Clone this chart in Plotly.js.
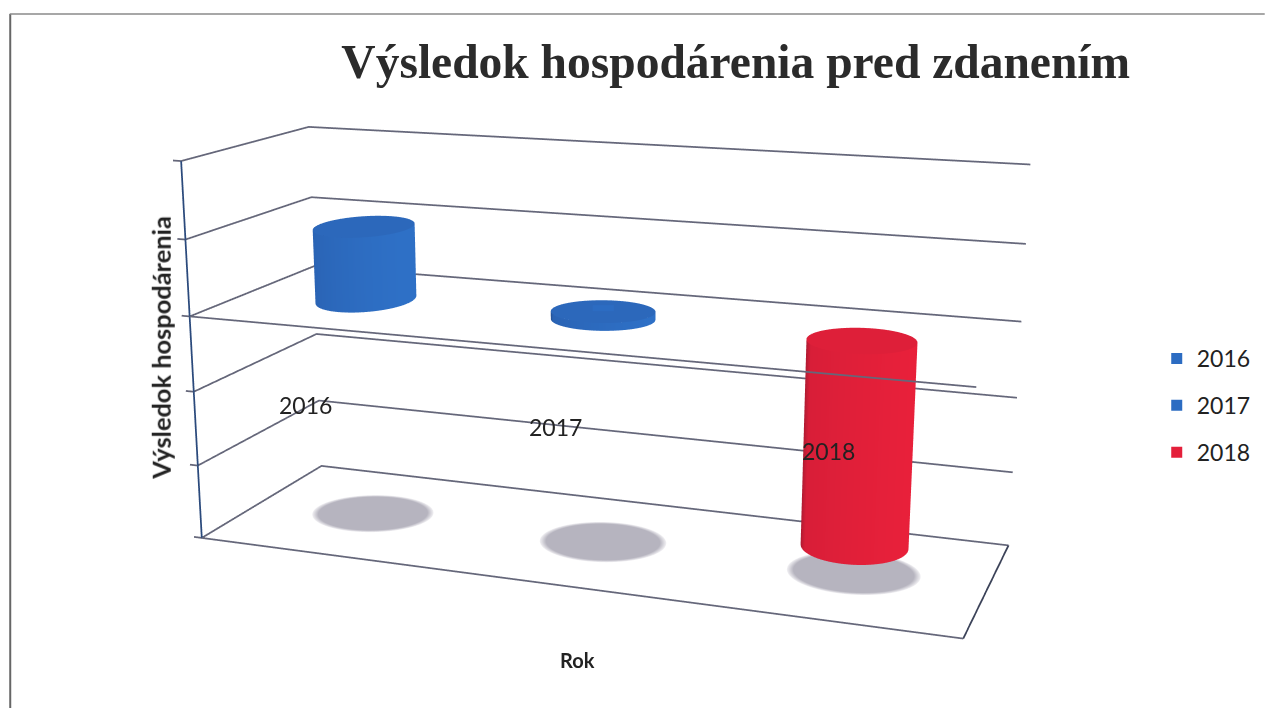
<!DOCTYPE html>
<html><head><meta charset="utf-8">
<script src="https://cdn.plot.ly/plotly-3.0.1.min.js"></script>
<style>html,body{margin:0;padding:0;background:#fff;width:1265px;height:708px;overflow:hidden}#wrap{position:absolute;left:0;top:0;width:1265px;height:708px;overflow:hidden}#c{position:absolute}</style>
</head><body><div id="wrap"><div id="c"></div></div>
<script>
var categories=['2016','2017','2018'];
var values=[0.98,0.1,-2.65];
var colors=['#2c6cc2','#2c6cc2','#e41f3a'];
var gridValues=[-3,-2,-1,0,1,2];
var catPos=[1,2,3];
var widths=[0.187,0.2,0.2];
var depths=[0.24,0.19,0.2];
var xTitle='Rok',yTitle='Výsledok hospodárenia',mainTitle='Výsledok hospodárenia pred zdanením';
var R={x:[0.5,3.5],y:[0,1],z:[-3,2]};
var pad={x:.06,y:.02,z:.06};
var B={x:[R.x[0]-pad.x,R.x[1]+pad.x],y:[R.y[0]-pad.y,R.y[1]+pad.y],z:[R.z[0]-pad.z,R.z[1]+pad.z]};
var srx=0.25,sry=0.23;
var N=72;
function cylSide(c,z0,z1,rx,ry){var X=[],Y=[],Z=[],S=[];[z0,z1].forEach(function(z){var a=[],b=[],d=[],s=[];for(var i=0;i<=N;i++){var t=i/N*2*Math.PI;a.push(c+rx*Math.cos(t));b.push(.5+ry*Math.sin(t));d.push(z);s.push((Math.cos(t)+1)/2)}X.push(a);Y.push(b);Z.push(d);S.push(s)});return{x:X,y:Y,z:Z,surfacecolor:S}}
function disk(c,z,a,b,rings,shade){var X=[],Y=[],Z=[],S=[];rings.forEach(function(r,k){var p=[],q=[],d=[],s=[];for(var i=0;i<=N;i++){var t=i/N*2*Math.PI;p.push(c+r*a*Math.cos(t));q.push(.5+r*b*Math.sin(t));d.push(z);s.push(shade[k])}X.push(p);Y.push(q);Z.push(d);S.push(s)});return{x:X,y:Y,z:Z,surfacecolor:S}}
var flat={ambient:1,diffuse:0,specular:0,roughness:1,fresnel:0};
function surf(g,cs){return Object.assign(g,{type:'surface',showscale:false,colorscale:cs,cmin:0,cmax:1,lighting:flat,hoverinfo:'skip',showlegend:false})}
function scale(c){return c==='#e41f3a'?[[0,'#a01a30'],[.1,'#d81e38'],[1,'#e8203a']]:[[0,'#1c3c74'],[.1,'#2a63b4'],[1,'#2e70c6']]}
var data=[];
catPos.forEach(function(c,i){
 data.push(surf(disk(c,R.z[0]+.002,srx,sry,[0,.9,1],[0,0,1]),[[0,'#b6b4bf'],[1,'#f2f1f4']]));
 var lo=Math.min(0,values[i]),hi=Math.max(0,values[i]);
 data.push(surf(cylSide(c,lo,hi,widths[i],depths[i]),scale(colors[i])));
 data.push(surf(disk(c,hi,widths[i],depths[i],[0,1],[.45,.45]),scale(colors[i])));
});
function ln(x,y,z,col,w){data.push({type:'scatter3d',mode:'lines',x:x,y:y,z:z,line:{color:col||'#65677a',width:w||3.5},hoverinfo:'skip',showlegend:false})}
var L=R.x[0],Rr=R.x[1];
gridValues.forEach(function(v){ln([L,L,Rr],[0,1,1],[v,v,v]);ln([L-.035,L],[0,0],[v,v])});
ln([L,Rr],[0,0],[-3,-3]);ln([Rr,Rr],[0,1],[-3,-3],'#3b4258');ln([L,Rr],[0,0],[0,0]);ln([L,L],[0,0],[-3,2],'#2b4a7c');
catPos.forEach(function(c,i){data.push({type:'scatter3d',mode:'markers',name:categories[i],legendgroup:categories[i],x:[c],y:[.5],z:[values[i]/2],marker:{symbol:'square',size:11,color:colors[i]},hoverinfo:'skip'})});
// Plotly's 3D camera has a fixed 45 degree field of view; the reference is far more telephoto,
// so the graph is laid out larger than the window and the window shows its matching part.
var Ww=1341,Hh=1641,left=-75.736,top0=-436.976;
function PX(x){return (x-left)/Ww} function PY(y){return 1-(y-top0)/Hh}
var gd=document.getElementById('c');gd.style.left=left+'px';gd.style.top=top0+'px';gd.style.width=Ww+'px';gd.style.height=Hh+'px';
var labelShift=[[-4,1],[0,-2],[2,-7]];
var layout={width:Ww,height:Hh,margin:{l:0,r:0,t:0,b:0,pad:0},paper_bgcolor:'#fff',
 title:{text:mainTitle,x:PX(736),xanchor:'center',y:PY(61),yanchor:'middle',font:{family:'Liberation Serif',size:47.5,color:'#2b2b2b',weight:'bold'}},
 legend:{x:PX(1157),y:PY(337),xanchor:'left',yanchor:'top',font:{family:'Lato',size:23,color:'#222'},tracegroupgap:14},
 scene:{domain:{x:[0,1],y:[0,1]},aspectmode:'manual',aspectratio:{x:2,y:0.6706,z:0.9806},dragmode:'orbit',
  camera:{eye:{x:1.5999,y:-4.4234,z:1.2015},center:{x:-0.1352,y:0.3074,z:-0.1575},up:{x:-0.0305,y:0.0837,z:1}},
  xaxis:{visible:false,range:B.x},yaxis:{visible:false,range:B.y},zaxis:{visible:false,range:B.z},
  annotations:catPos.map(function(c,i){return{x:c,y:0,z:-1,text:categories[i],showarrow:false,xshift:labelShift[i][0],yshift:-labelShift[i][1],font:{family:'Lato',size:23,color:'#222'}}})},
 annotations:[{xref:'paper',yref:'paper',x:PX(161),y:PY(348),xanchor:'center',yanchor:'middle',text:yTitle,textangle:-90,showarrow:false,font:{family:'Lato',size:25.4,color:'#222',weight:'bold'}},
 {xref:'paper',yref:'paper',x:PX(578),y:PY(660),xanchor:'center',yanchor:'middle',text:xTitle,showarrow:false,font:{family:'Lato',size:20,color:'#222',weight:'bold'}}],
 shapes:[{type:'line',xref:'paper',yref:'paper',x0:PX(10.5),x1:PX(10.5),y0:PY(14),y1:PY(708),line:{color:'#666',width:2}},
 {type:'line',xref:'paper',yref:'paper',x0:PX(10),x1:PX(1265),y0:PY(14),y1:PY(14),line:{color:'#8a8a8a',width:1.5}}]};
Plotly.newPlot(gd,data,layout,{displayModeBar:false});
</script></body></html>
